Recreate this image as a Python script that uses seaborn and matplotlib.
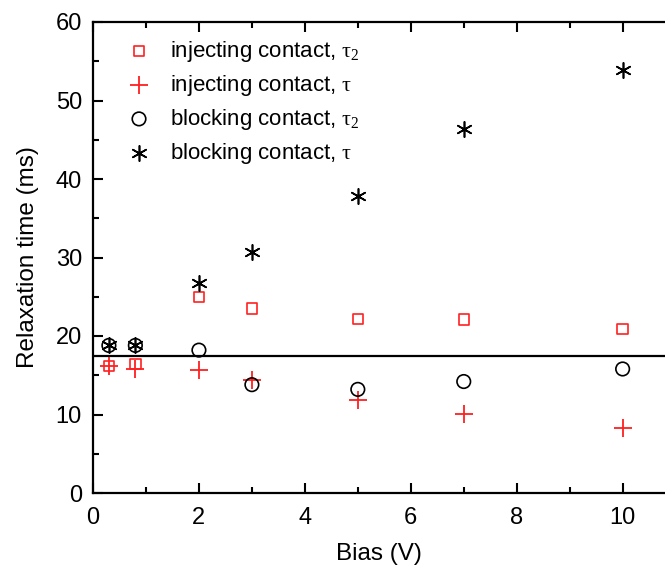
import matplotlib
matplotlib.use("Agg")
import matplotlib.pyplot as plt
import seaborn as sns
import numpy as np
from matplotlib.ticker import MultipleLocator

bias = [0.3, 0.8, 2, 3, 5, 7, 10]
inj_tau2 = [16.2, 16.4, 25.0, 23.5, 22.2, 22.1, 20.9]
inj_tau = [16.2, 15.8, 15.7, 14.4, 11.8, 10.1, 8.3]
blk_tau2 = [18.8, 18.8, 18.2, 13.8, 13.2, 14.2, 15.8]
blk_tau = [18.8, 18.8, 26.8, 30.7, 37.8, 46.4, 53.9]
ref_level = 17.5

labels = [r"injecting contact, $\tau_2$", r"injecting contact, $\tau$",
          r"blocking contact, $\tau_2$", r"blocking contact, $\tau$"]

sns.set_style("ticks")
plt.rcParams['font.family'] = ['Liberation Sans', 'DejaVu Sans']
plt.rcParams['mathtext.fontset'] = 'custom'
plt.rcParams['mathtext.rm'] = 'Liberation Serif'
plt.rcParams['mathtext.it'] = 'Liberation Serif'
for k in ['text.color', 'axes.labelcolor', 'xtick.color', 'ytick.color', 'axes.edgecolor']:
    plt.rcParams[k] = 'black'

fig = plt.figure(figsize=(6.65, 5.66), dpi=100)
ax = fig.add_axes([93/665, 73/566, 1 - 93/665, (493-22)/566])

red = "#ff2020"
sns.scatterplot(x=bias, y=inj_tau2, marker="s", s=55, facecolors="none",
                edgecolors=red, linewidths=1.2, label=labels[0], ax=ax, zorder=3)
sns.scatterplot(x=bias, y=inj_tau, marker="+", s=170, color=red,
                linewidths=1.3, label=labels[1], ax=ax, zorder=3)
sns.scatterplot(x=bias, y=blk_tau2, marker="o", s=95, facecolors="none",
                edgecolors="black", linewidths=1.2, label=labels[2], ax=ax, zorder=3)
sns.scatterplot(x=bias, y=blk_tau, marker=(6, 2, 0), s=120, color="black",
                linewidths=1.2, label=labels[3], ax=ax, zorder=3)

ax.axhline(ref_level, color="black", lw=1.6, zorder=2)

ax.set_xlim(0, 10.8)
ax.set_ylim(0, 60)
ax.xaxis.set_major_locator(MultipleLocator(2))
ax.xaxis.set_minor_locator(MultipleLocator(1))
ax.yaxis.set_major_locator(MultipleLocator(10))
ax.yaxis.set_minor_locator(MultipleLocator(5))
ax.tick_params(which="both", direction="in", top=True, right=False,
               width=1.5, labelsize=17)
ax.tick_params(which="major", length=7)
ax.tick_params(which="minor", length=4)
ax.tick_params(axis="x", pad=10)
ax.tick_params(axis="y", pad=8)
for side in ["left", "bottom", "top"]:
    ax.spines[side].set_linewidth(1.6)
ax.spines["right"].set_visible(False)

ax.set_xlabel("Bias (V)", fontsize=17.5, labelpad=10)
ax.set_ylabel("Relaxation time (ms)", fontsize=17.5, labelpad=12)

ax.legend(loc="upper left", frameon=False, fontsize=16,
          bbox_to_anchor=(0.061, 0.964), handlelength=1.0, handletextpad=0.9,
          labelspacing=0.4, borderaxespad=0, borderpad=0)

fig.savefig("out.png", dpi=100)
